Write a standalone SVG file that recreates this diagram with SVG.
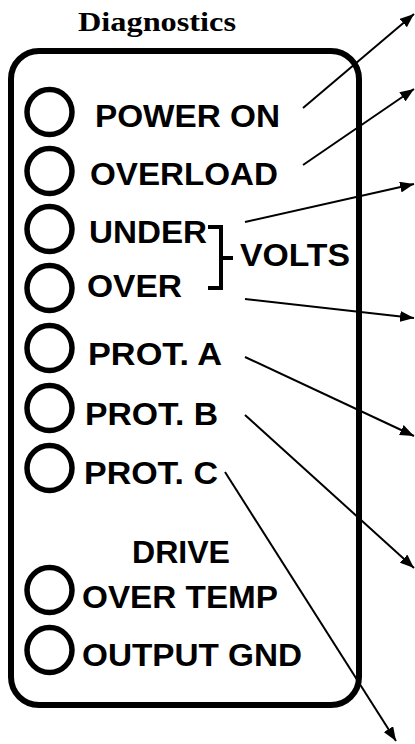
<svg xmlns="http://www.w3.org/2000/svg" width="415" height="744" viewBox="0 0 415 744">
<style>
.lbl{font-family:"Liberation Sans",Arial,sans-serif;font-weight:bold;font-size:32px;fill:#000}
.ttl{font-family:"Liberation Serif","Times New Roman",serif;font-weight:bold;font-size:27px;fill:#000}
.led{fill:none;stroke:#000;stroke-width:5.5}
.conn{fill:none;stroke:#000;stroke-width:2}
</style>
<defs>
<marker id="ah" markerUnits="userSpaceOnUse" markerWidth="15" markerHeight="11" refX="14" refY="5.5" orient="auto">
<path d="M0,0 L14,5.5 L0,11 z" fill="#000"/>
</marker>
</defs>
<rect width="415" height="744" fill="#fff"/>
<text class="ttl" x="78" y="31" textLength="158" lengthAdjust="spacingAndGlyphs">Diagnostics</text>
<g id="panel">
<rect x="11" y="51" width="348" height="654" rx="28" ry="28" fill="none" stroke="#000" stroke-width="6"/>
</g>
<g id="power-on"><circle class="led" cx="49.5" cy="112" r="22.5"/><text class="lbl" x="95" y="127" textLength="185" lengthAdjust="spacingAndGlyphs">POWER ON</text></g>
<g id="overload"><circle class="led" cx="49.5" cy="171" r="22.5"/><text class="lbl" x="90" y="185" textLength="188" lengthAdjust="spacingAndGlyphs">OVERLOAD</text></g>
<g id="under"><circle class="led" cx="49.5" cy="229" r="22.5"/><text class="lbl" x="89" y="243" textLength="118" lengthAdjust="spacingAndGlyphs">UNDER</text></g>
<g id="over"><circle class="led" cx="49.5" cy="288" r="22.5"/><text class="lbl" x="87" y="297" textLength="95" lengthAdjust="spacingAndGlyphs">OVER</text></g>
<g id="volts"><path d="M208,227 H221 V288 H208 M221,258 H233" fill="none" stroke="#000" stroke-width="4"/><text class="lbl" x="240" y="266" textLength="110" lengthAdjust="spacingAndGlyphs">VOLTS</text></g>
<g id="prot-a"><circle class="led" cx="49.5" cy="348" r="22.5"/><text class="lbl" x="88" y="365" textLength="134" lengthAdjust="spacingAndGlyphs">PROT. A</text></g>
<g id="prot-b"><circle class="led" cx="49.5" cy="408" r="22.5"/><text class="lbl" x="85" y="425" textLength="133" lengthAdjust="spacingAndGlyphs">PROT. B</text></g>
<g id="prot-c"><circle class="led" cx="49.5" cy="468" r="22.5"/><text class="lbl" x="84" y="484" textLength="134" lengthAdjust="spacingAndGlyphs">PROT. C</text></g>
<g id="drive"><text class="lbl" x="132" y="563" textLength="98" lengthAdjust="spacingAndGlyphs">DRIVE</text></g>
<g id="over-temp"><circle class="led" cx="49.5" cy="590" r="22.5"/><text class="lbl" x="82" y="608" textLength="196" lengthAdjust="spacingAndGlyphs">OVER TEMP</text></g>
<g id="output-gnd"><circle class="led" cx="49.5" cy="650" r="22.5"/><text class="lbl" x="82" y="666" textLength="220" lengthAdjust="spacingAndGlyphs">OUTPUT GND</text></g>
<g id="connectors">
<line class="conn" x1="303" y1="108" x2="414" y2="14" marker-end="url(#ah)"/>
<line class="conn" x1="303" y1="165" x2="414" y2="89" marker-end="url(#ah)"/>
<line class="conn" x1="245" y1="222" x2="414" y2="184" marker-end="url(#ah)"/>
<line class="conn" x1="245" y1="299" x2="414" y2="318" marker-end="url(#ah)"/>
<line class="conn" x1="245" y1="357" x2="414" y2="436" marker-end="url(#ah)"/>
<line class="conn" x1="245" y1="415" x2="414" y2="568" marker-end="url(#ah)"/>
<line class="conn" x1="225" y1="472" x2="396" y2="741" marker-end="url(#ah)"/>
</g>
</svg>
